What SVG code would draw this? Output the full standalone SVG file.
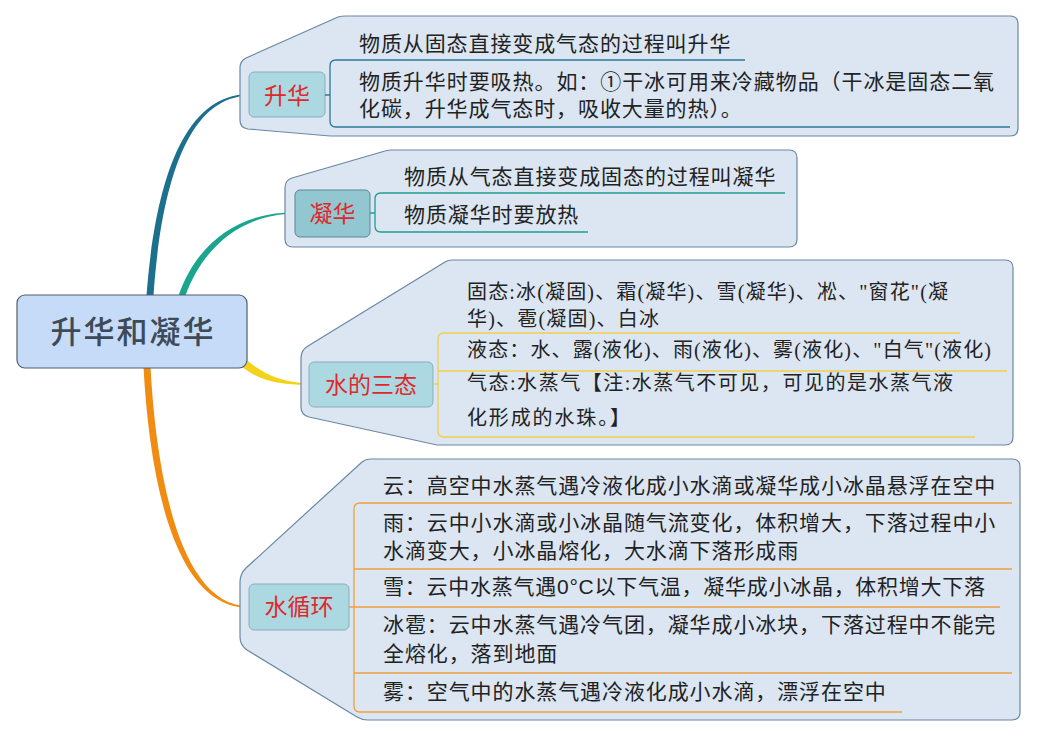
<svg xmlns="http://www.w3.org/2000/svg" width="1038" height="737" viewBox="0 0 1038 737">
<style>
.outer{fill:#dbe6f2;stroke:#6a88a4;stroke-width:1.2}
.node{fill:#acd8e1;stroke:#86b0bb;stroke-width:1}
.ntxt{font-family:"Noto Sans CJK SC",sans-serif;font-size:23px;fill:#e0282c;text-anchor:middle}
.t{font-family:"Noto Sans CJK SC",sans-serif;font-size:21px;letter-spacing:0.9px;fill:#222}
.t3{font-family:"Liberation Serif","Noto Sans CJK SC",sans-serif;font-size:20px;fill:#222}
.l1{fill:none;stroke:#2b7a98;stroke-width:1.3}
.l2{fill:none;stroke:#1f9e90;stroke-width:1.3}
.l3{fill:none;stroke:#f2d04a;stroke-width:1.3}
.l4{fill:none;stroke:#f0a040;stroke-width:1.3}
</style>
<rect width="1038" height="737" fill="#ffffff"/>
<g id="connectors">
<path d="M146.5,295.5 C155,184 183,93.8 249,94.3 L249,95.7 C187,96.2 161,186 153.5,295.5 Z" fill="#1d6f8e"/>
<path d="M178.5,295.5 C197,243 238,212.2 295,212.3 L295,213.7 C242,213.8 203,247 185.5,295.5 Z" fill="#1aa58f"/>
<path d="M245,358.5 C263,375 285,383.3 309,383.3 L309,384.7 C284,385 260,382 241,366 Z" fill="#f4d21a"/>
<path d="M143.5,367 C149,471 172,608.7 249,607.7 L249,606.3 C178,606 156,469 150.5,367 Z" fill="#f08c12"/>
</g>
<g id="root">
<rect x="17" y="295" width="230" height="73" rx="8" fill="#c6dbf7" stroke="#4e5d70" stroke-width="1.2"/>
<text x="132" y="343" font-family="Noto Sans CJK SC,sans-serif" font-size="31" font-weight="500" fill="#3d4a58" text-anchor="middle" textLength="163" lengthAdjust="spacing">升华和凝华</text>
</g>
<g id="branch-shenghua">
<path class="outer" d="M346,16 L1010,16 Q1018,16 1018,24 L1018,128 Q1018,136 1010,136 L330,136 L248,129 Q240,128 240,120 L240,68 Q240,61 246,58 L338,17 Q341,16 346,16 Z"/>
<rect class="node" x="249" y="72" width="76" height="45" rx="5" fill="#a9d8e1" stroke="#a9d8e1"/>
<text class="ntxt" x="287" y="104">升华</text>
<path class="l1" d="M325,95 L330,95 M745,60 L336,60 Q330,60 330,66 L330,121 Q330,127 336,127 L1010,127"/>
<text class="t" x="359" y="50.5">物质从固态直接变成气态的过程叫升华</text>
<text class="t" x="359" y="88.5" textLength="636" lengthAdjust="spacing">物质升华时要吸热。如：①干冰可用来冷藏物品（干冰是固态二氧</text>
<text class="t" x="359" y="115.5">化碳，升华成气态时，吸收大量的热）。</text>
</g>
<g id="branch-ninghua">
<path class="outer" d="M392,150 L789,150 Q797,150 797,158 L797,239 Q797,247 789,247 L293,247 Q285,247 285,239 L285,188 Q285,180 292,178 L385,151 Q388,150 392,150 Z"/>
<rect x="295" y="190" width="75" height="47" rx="5" fill="#92c6d1" stroke="#5b8794" stroke-width="1"/>
<text class="ntxt" x="332.5" y="222">凝华</text>
<path class="l2" d="M370,213 L375,213 M785,193 L381,193 Q375,193 375,199 L375,226 Q375,232 381,232 L588,232"/>
<text class="t" x="404" y="183.5">物质从气态直接变成固态的过程叫凝华</text>
<text class="t" x="404" y="221.5">物质凝华时要放热</text>
</g>
<g id="branch-santai">
<path class="outer" d="M452,260 L1005,260 Q1013,260 1013,268 L1013,437 Q1013,445 1005,445 L437,445 L309,417 Q301,415 301,407 L301,358 Q301,350 308,346 L445,262 Q448,260 452,260 Z"/>
<rect class="node" x="309" y="362" width="124" height="45" rx="5"/>
<text class="ntxt" x="371" y="393">水的三态</text>
<path class="l3" d="M433,384 L438,384 M960,333 L444,333 Q438,333 438,339 L438,431 Q438,437 444,437 L975,437 M438,371 L1007,371"/>
<text class="t3" x="467" y="298.5" textLength="481" lengthAdjust="spacing">固态:冰(凝固)、霜(凝华)、雪(凝华)、凇、"窗花"(凝</text>
<text class="t3" x="467" y="325.5" textLength="192" lengthAdjust="spacing">华)、雹(凝固)、白冰</text>
<text class="t3" x="467" y="356.5" textLength="524" lengthAdjust="spacing">液态：水、露(液化)、雨(液化)、雾(液化)、"白气"(液化)</text>
<text class="t3" x="467" y="390" textLength="486" lengthAdjust="spacing">气态:水蒸气【注:水蒸气不可见，可见的是水蒸气液</text>
<text class="t3" x="467" y="425" textLength="163" lengthAdjust="spacing">化形成的水珠。】</text>
</g>
<g id="branch-xunhuan">
<path class="outer" d="M370,459 L1012,459 Q1020,459 1020,467 L1020,712 Q1020,720 1012,720 L368,720 Q362,720 357,717 L247,650 Q240,645 240,637 L240,582 Q240,574 246,568 L362,462 Q366,459 370,459 Z"/>
<rect class="node" x="249" y="584" width="100" height="46" rx="5"/>
<text class="ntxt" x="299" y="615">水循环</text>
<path class="l4" d="M349,607 L354,607 M1012,503 L360,503 Q354,503 354,509 L354,706 Q354,712 360,712 L902,712 M354,569 L1012,569 M354,607 L1000,607 M354,673 L1012,673"/>
<text class="t" x="383" y="493">云：高空中水蒸气遇冷液化成小水滴或凝华成小冰晶悬浮在空中</text>
<text class="t" x="383" y="529.5">雨：云中小水滴或小冰晶随气流变化，体积增大，下落过程中小</text>
<text class="t" x="383" y="558">水滴变大，小冰晶熔化，大水滴下落形成雨</text>
<text class="t" x="383" y="594" textLength="603" lengthAdjust="spacing">雪：云中水蒸气遇<tspan font-family="Liberation Sans,sans-serif">0°C</tspan>以下气温，凝华成小冰晶，体积增大下落</text>
<text class="t" x="383" y="632">冰雹：云中水蒸气遇冷气团，凝华成小冰块，下落过程中不能完</text>
<text class="t" x="383" y="661">全熔化，落到地面</text>
<text class="t" x="383" y="699">雾：空气中的水蒸气遇冷液化成小水滴，漂浮在空中</text>
</g>
</svg>
